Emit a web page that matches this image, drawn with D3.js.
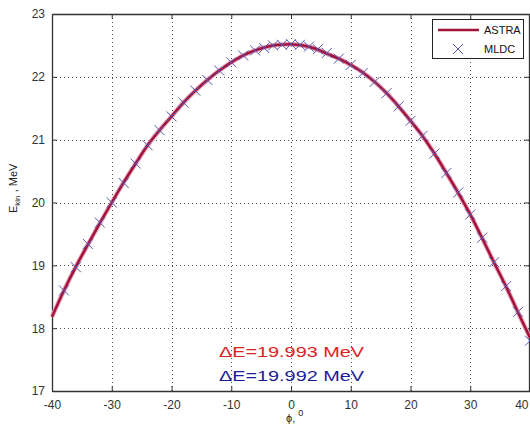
<!DOCTYPE html>
<html>
<head>
<meta charset="utf-8">
<script src="https://cdn.jsdelivr.net/npm/d3@7"></script>
<style>
  body { margin: 0; background: #fff; }
  svg { display: block; font-family: "Liberation Sans", Arial, sans-serif; }
</style>
</head>
<body>
<svg id="chart" width="530" height="426"></svg>
<script>
// ASTRA simulation (solid line), phase in degrees vs kinetic energy in MeV
const astraPhi = [-40, -38, -36, -34, -32, -30, -28, -26, -24, -22, -20, -18, -16, -14, -12, -10, -8, -6, -4, -2,
  0, 2, 4, 6, 8, 10, 12, 14, 16, 18, 20, 22, 24, 26, 28, 30, 32, 34, 36, 38, 40];
const astraE = [18.18, 18.60, 18.98, 19.33, 19.67, 20.00, 20.32, 20.62, 20.91, 21.15, 21.37, 21.59, 21.78, 21.95, 22.10, 22.23, 22.34, 22.42, 22.48, 22.51,
  22.52, 22.50, 22.45, 22.37, 22.29, 22.19, 22.07, 21.92, 21.74, 21.53, 21.30, 21.06, 20.78, 20.47, 20.15, 19.81, 19.43, 19.04, 18.66, 18.25, 17.85];

// MLDC points (crosses)
const mldcPhi = [-38, -36, -34, -32, -30, -28, -26, -24, -22, -20, -18, -16, -14, -12, -10, -8, -6, -4.5, -3, -1.5,
  0, 1.5, 3, 4.5, 6, 8, 10, 12, 14, 16, 18, 20, 22, 24, 26, 28, 30, 32, 34, 36, 38, 40];
const mldcE = [18.60, 18.97, 19.34, 19.68, 20.00, 20.31, 20.62, 20.91, 21.15, 21.37, 21.59, 21.78, 21.95, 22.10, 22.23, 22.34, 22.42, 22.46, 22.50, 22.51,
  22.52, 22.51, 22.48, 22.44, 22.38, 22.29, 22.19, 22.06, 21.92, 21.74, 21.53, 21.30, 21.06, 20.78, 20.47, 20.16, 19.81, 19.44, 19.05, 18.67, 18.26, 17.80];

const xTicks = [-40, -30, -20, -10, 0, 10, 20, 30, 40];
const yTicks = [17, 18, 19, 20, 21, 22, 23];
const seriesNames = ["ASTRA", "MLDC"];
const notes = ["\u0394E=19.993 MeV", "\u0394E=19.992 MeV"];

const margin = { left: 52, top: 14, right: 0, bottom: 35 };
const W = 530, H = 426;
const svg = d3.select("#chart");

const x = d3.scaleLinear().domain([-40, 40]).range([margin.left, W - margin.right]);
const y = d3.scaleLinear().domain([17, 23]).range([H - margin.bottom, margin.top]);

const lineColor = "#a3123d";
const crossColor = "#5656b0";
const plain = d => String(d);

// grid
const grid = svg.append("g").attr("stroke", "#222").attr("stroke-width", 1)
  .attr("stroke-dasharray", "1,3").attr("opacity", 0.8);
grid.selectAll(".gx").data(xTicks.slice(1, -1)).join("line")
  .attr("x1", d => Math.round(x(d)) + 0.5).attr("x2", d => Math.round(x(d)) + 0.5)
  .attr("y1", y(23)).attr("y2", y(17));
grid.selectAll(".gy").data(yTicks.slice(1, -1)).join("line")
  .attr("y1", d => Math.round(y(d)) + 0.5).attr("y2", d => Math.round(y(d)) + 0.5)
  .attr("x1", x(-40)).attr("x2", x(40));

// axes with inward ticks
const axB = svg.append("g").attr("transform", `translate(0,${y(17)})`)
  .call(d3.axisBottom(x).tickValues(xTicks).tickSizeInner(-5).tickSizeOuter(0).tickPadding(9).tickFormat(plain));
const axT = svg.append("g").attr("transform", `translate(0,${y(23)})`)
  .call(d3.axisTop(x).tickValues(xTicks).tickSizeInner(-5).tickSizeOuter(0).tickFormat(""));
const axL = svg.append("g").attr("transform", `translate(${x(-40)},0)`)
  .call(d3.axisLeft(y).tickValues(yTicks).tickSizeInner(-5).tickSizeOuter(0).tickPadding(7).tickFormat(plain));
const axR = svg.append("g").attr("transform", `translate(${x(40) - 1},0)`)
  .call(d3.axisRight(y).tickValues(yTicks).tickSizeInner(-5).tickSizeOuter(0).tickFormat(""));
[axB, axT, axL, axR].forEach(a => {
  a.select(".domain").attr("stroke", "#333").attr("stroke-width", 1.3);
  a.selectAll(".tick line").attr("stroke", "#333");
  a.selectAll("text").attr("font-size", 12).attr("fill", "#333")
    .attr("font-family", "'Liberation Sans', Arial, sans-serif");
});
// last x label sits at the picture's right edge: keep it inside
axB.selectAll(".tick").filter(d => d === 40).select("text").attr("text-anchor", "end").attr("dx", -2);

// ASTRA line
const astra = astraPhi.map((p, i) => ({ phi: p, e: astraE[i] }));
const valueLine = d3.line().x(d => x(d.phi)).y(d => y(d.e)).curve(d3.curveCatmullRom);
svg.append("path").datum(astra)
  .attr("fill", "none").attr("stroke", "#e6a0b4").attr("stroke-width", 4.5).attr("d", valueLine);
svg.append("path").datum(astra)
  .attr("fill", "none").attr("stroke", lineColor).attr("stroke-width", 2.5).attr("d", valueLine);

// MLDC crosses
const mldc = mldcPhi.map((p, i) => ({ phi: p, e: mldcE[i] }));
const cross = "M-5,-5L5,5M-5,5L5,-5";
svg.append("g").selectAll("path").data(mldc).join("path")
  .attr("transform", d => `translate(${x(d.phi)},${y(d.e)})`)
  .attr("d", cross).attr("fill", "none").attr("stroke", crossColor).attr("stroke-width", 1);

// legend
const lg = svg.append("g");
lg.append("rect").attr("x", 432.5).attr("y", 19.5).attr("width", 91).attr("height", 39)
  .attr("fill", "#fff").attr("stroke", "#222").attr("stroke-width", 1);
lg.append("line").attr("x1", 438).attr("x2", 479).attr("y1", 30).attr("y2", 30)
  .attr("stroke", lineColor).attr("stroke-width", 2.5);
lg.append("path").attr("transform", "translate(458,49)").attr("d", cross)
  .attr("fill", "none").attr("stroke", crossColor).attr("stroke-width", 1);
lg.selectAll("text").data(seriesNames).join("text")
  .attr("x", 484).attr("y", (d, i) => 34 + i * 19)
  .attr("font-size", 11).attr("fill", "#111").text(d => d);

// annotations
svg.append("text").attr("x", 219).attr("y", 357).attr("font-size", 15)
  .attr("textLength", 145).attr("lengthAdjust", "spacingAndGlyphs")
  .attr("fill", "#dd2222").text(notes[0]);
svg.append("text").attr("x", 219).attr("y", 381).attr("font-size", 15)
  .attr("textLength", 145).attr("lengthAdjust", "spacingAndGlyphs")
  .attr("fill", "#1c1c96").text(notes[1]);

// axis labels
const xl = svg.append("text").attr("x", 286).attr("y", 422).attr("font-size", 11).attr("fill", "#222");
xl.append("tspan").text("\u03d5, ");
xl.append("tspan").attr("dy", -6).attr("font-size", 9).text("0");

const yl = svg.append("text").attr("transform", "translate(17,213) rotate(-90)")
  .attr("font-size", 11).attr("fill", "#222");
yl.append("tspan").text("E");
yl.append("tspan").attr("dy", 3).attr("font-size", 8).text("kin");
yl.append("tspan").attr("dy", -3).text(" , MeV");
</script>
</body>
</html>
